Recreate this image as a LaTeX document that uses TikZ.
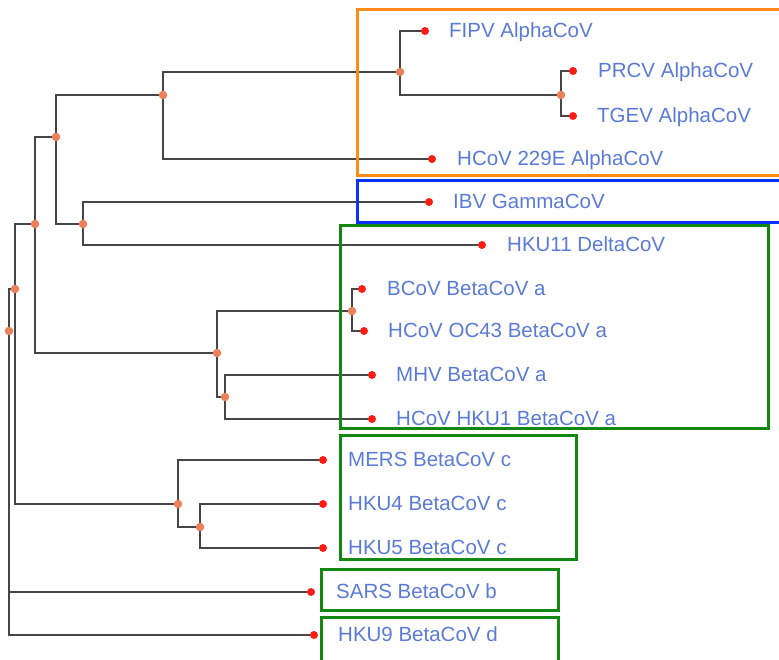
\documentclass[tikz,border=0pt]{standalone}
\usepackage{fontspec}
\setmainfont{Liberation Sans}
\pgfdeclarelayer{edges}
\pgfdeclarelayer{boxes}
\pgfsetlayers{edges,boxes,main}
\definecolor{txt}{RGB}{90,122,216}
\definecolor{edgegray}{RGB}{70,70,70}
\definecolor{nodeor}{RGB}{236,128,88}
\definecolor{leafred}{RGB}{255,28,18}
\definecolor{boxorange}{RGB}{255,140,22}
\definecolor{boxblue}{RGB}{10,50,250}
\definecolor{boxgreen}{RGB}{18,135,18}
\begin{document}
\begin{tikzpicture}[x=1pt,y=-1pt,
  inner/.style={circle,fill=nodeor,inner sep=0pt,minimum size=8.5pt},
  leaf/.style={circle,fill=leafred,inner sep=0pt,minimum size=8pt},
  lbl/.style={anchor=base west,inner sep=0pt,text=txt,font=\fontsize{20.5}{24}\selectfont},
  edge/.style={draw=edgegray,line width=1.6pt},
  grp/.style={line width=3pt}]
\useasboundingbox (0,0) rectangle (779,659);

% leaves
\node[leaf] (fipv) at (425,31) {};
\node[leaf] (prcv) at (573,71) {};
\node[leaf] (tgev) at (573,116) {};
\node[leaf] (h229) at (432,159) {};
\node[leaf] (ibv) at (429,202) {};
\node[leaf] (hku11) at (482,245) {};
\node[leaf] (bcov) at (362,289) {};
\node[leaf] (oc43) at (364,331) {};
\node[leaf] (mhv) at (372,375) {};
\node[leaf] (hku1) at (372,419) {};
\node[leaf] (mers) at (323,460) {};
\node[leaf] (hku4) at (323,504) {};
\node[leaf] (hku5) at (323,548) {};
\node[leaf] (sars) at (311,592) {};
\node[leaf] (hku9) at (314,635) {};

% labels
\node[lbl] (fipvL) at (449,37) {FIPV AlphaCoV};
\node[lbl] (prcvL) at (598,77) {PRCV AlphaCoV};
\node[lbl] (tgevL) at (597,122) {TGEV AlphaCoV};
\node[lbl] (h229L) at (457,165) {HCoV 229E AlphaCoV};
\node[lbl] (ibvL) at (453,208) {IBV GammaCoV};
\node[lbl] (hku11L) at (507,251) {HKU11 DeltaCoV};
\node[lbl] (bcovL) at (387,295) {BCoV BetaCoV a};
\node[lbl] (oc43L) at (388,337) {HCoV OC43 BetaCoV a};
\node[lbl] (mhvL) at (396,381) {MHV BetaCoV a};
\node[lbl] (hku1L) at (396,425) {HCoV HKU1 BetaCoV a};
\node[lbl] (mersL) at (348,466) {MERS BetaCoV c};
\node[lbl] (hku4L) at (348,510) {HKU4 BetaCoV c};
\node[lbl] (hku5L) at (348,554) {HKU5 BetaCoV c};
\node[lbl] (sarsL) at (336,598) {SARS BetaCoV b};
\node[lbl] (hku9L) at (338,641) {HKU9 BetaCoV d};

% internal nodes
\node[inner] (n1) at (400,72) {};
\node[inner] (n2) at (561,95) {};
\node[inner] (n3) at (163,95) {};
\node[inner] (n4) at (56,137) {};
\node[inner] (n5) at (83,224) {};
\node[inner] (n6) at (35,224) {};
\node[inner] (n7) at (217,353) {};
\node[inner] (n8) at (352,311) {};
\node[inner] (n9) at (225,397) {};
\node[inner] (n10) at (15,289) {};
\node[inner] (n11) at (178,504) {};
\node[inner] (n12) at (200,527) {};
\node[inner] (root) at (9,331) {};

\begin{pgfonlayer}{edges}
\draw[edge] (n1.center) |- (fipv.center);
\draw[edge] (n1.center) |- (n2.center);
\draw[edge] (n2.center) |- (prcv.center);
\draw[edge] (n2.center) |- (tgev.center);
\draw[edge] (n3.center) |- (n1.center);
\draw[edge] (n3.center) |- (h229.center);
\draw[edge] (n4.center) |- (n3.center);
\draw[edge] (n4.center) |- (n5.center);
\draw[edge] (n5.center) |- (ibv.center);
\draw[edge] (n5.center) |- (hku11.center);
\draw[edge] (n6.center) |- (n4.center);
\draw[edge] (n6.center) |- (n7.center);
\draw[edge] (n7.center) |- (n8.center);
\draw[edge] (n7.center) |- (n9.center);
\draw[edge] (n8.center) |- (bcov.center);
\draw[edge] (n8.center) |- (oc43.center);
\draw[edge] (n9.center) |- (mhv.center);
\draw[edge] (n9.center) |- (hku1.center);
\draw[edge] (n10.center) |- (n6.center);
\draw[edge] (n10.center) |- (n11.center);
\draw[edge] (n11.center) |- (mers.center);
\draw[edge] (n11.center) |- (n12.center);
\draw[edge] (n12.center) |- (hku4.center);
\draw[edge] (n12.center) |- (hku5.center);
\draw[edge] (root.center) |- (n10.center);
\draw[edge] (root.center) |- (sars.center);
\draw[edge] (root.center) |- (hku9.center);
\end{pgfonlayer}

\begin{pgfonlayer}{boxes}
\draw[grp,boxorange] (357,9) rectangle (790,175);
\draw[grp,boxblue] (357,180) rectangle (790,222);
\draw[grp,boxgreen] (340,225) rectangle (768,428);
\draw[grp,boxgreen] (340,435) rectangle (576,559);
\draw[grp,boxgreen] (321,569) rectangle (558,610);
\draw[grp,boxgreen] (321,617) rectangle (558,670);
\end{pgfonlayer}
\end{tikzpicture}
\end{document}
